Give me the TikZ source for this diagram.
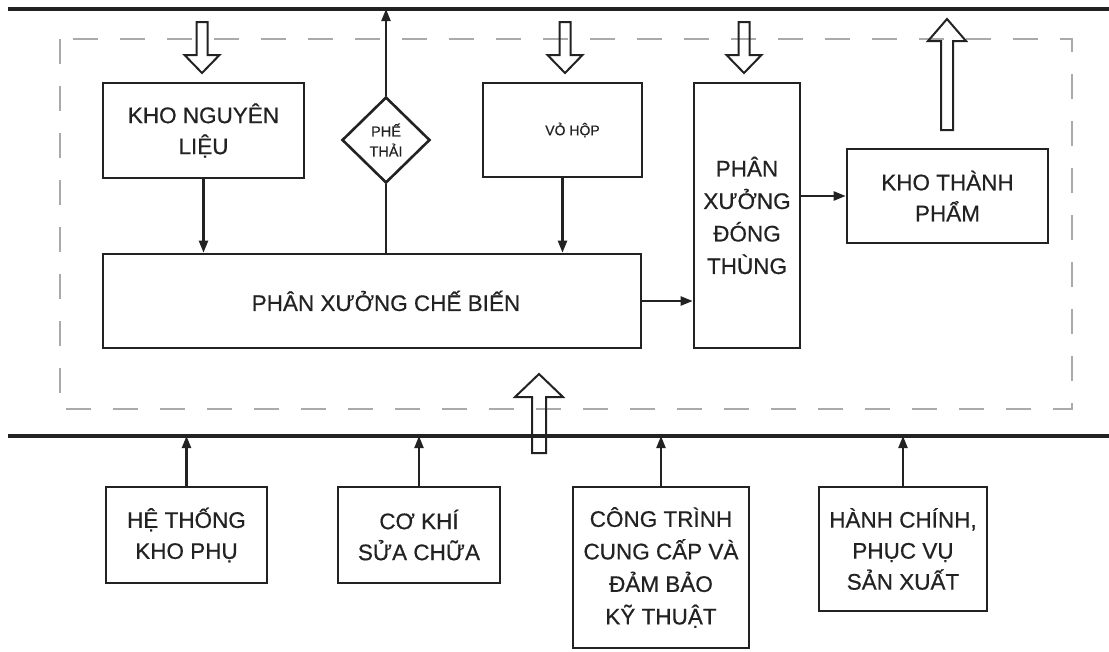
\documentclass[tikz,border=0pt]{standalone}
\usepackage{fontspec}
\setmainfont{Liberation Sans}[FakeBold=0.6]
\usetikzlibrary{arrows.meta,shapes.geometric}
\definecolor{linec}{HTML}{222222}
\definecolor{framec}{HTML}{AAAAAA}
\begin{document}
\begin{tikzpicture}[x=1pt,y=-1pt,
  box/.style={draw=linec, line width=2.6pt, align=center, inner sep=0pt, text=linec,
    font=\fontsize{22.5}{31}\selectfont},
  bus/.style={draw=linec, line width=3.2pt},
  flow/.style={draw=linec, line width=2.2pt, -{Triangle[length=12pt,width=9pt]}},
  plain/.style={draw=linec, line width=2.2pt},
  hollow/.style={draw=linec, line width=2pt, line join=miter},
  frame/.style={draw=framec, line width=1.6pt, dash pattern=on 25pt off 22pt}]
\useasboundingbox (0,0) rectangle (1109,651);

% buses
\coordinate (tl) at (8,9);
\coordinate (tr) at (1109,9);
\coordinate (bl) at (8,436);
\coordinate (br) at (1109,436);
\draw[bus] (tl) -- (tr);
\draw[bus] (bl) -- (br);

% dashed frame
\draw[frame] (60,39) rectangle (1072,409);

% boxes
\node[box, minimum width=201pt, minimum height=95pt] (knl) at (203.5,130.5) {KHO NGUYÊN\\LIỆU};
\node[box, minimum width=159pt, minimum height=94pt, font=\fontsize{14}{18}\selectfont] (vh) at (562.5,130) {\hspace*{20pt}VỎ HỘP};
\node[box, diamond, minimum width=88pt, minimum height=86pt, font=\fontsize{14.5}{20}\selectfont] (pt) at (386,140) {PHẾ\\THẢI};
\node[box, minimum width=538pt, minimum height=94pt] (cb) at (372,301) {\hspace*{28pt}PHÂN XƯỞNG CHẾ BIẾN};
\node[box, minimum width=106pt, minimum height=265pt, font=\fontsize{22.5}{32.5}\selectfont] (dt) at (747,215.5) {PHÂN\\XƯỞNG\\ĐÓNG\\THÙNG};
\node[box, minimum width=201pt, minimum height=94pt] (ktp) at (947.5,196) {KHO THÀNH\\PHẨM};

\node[box, minimum width=161pt, minimum height=96pt] (b1) at (186.5,535) {HỆ THỐNG\\KHO PHỤ};
\node[box, minimum width=162pt, minimum height=96pt] (b2) at (419,535) {CƠ KHÍ\\SỬA CHỮA};
\node[box, minimum width=176pt, minimum height=161pt, font=\fontsize{22.5}{32.5}\selectfont] (b3) at (661,567.5) {CÔNG TRÌNH\\CUNG CẤP VÀ\\ĐẢM BẢO\\KỸ THUẬT};
\node[box, minimum width=168pt, minimum height=124pt] (b4) at (903,549) {HÀNH CHÍNH,\\PHỤC VỤ\\SẢN XUẤT};

% connectors
\draw[flow] (knl.south) -- (knl.south |- cb.north);
\draw[flow] (vh.south) -- (vh.south |- cb.north);
\draw[plain] (pt.south |- cb.north) -- (pt.south);
\draw[flow] (pt.north) -- (pt.north |- tl);
\draw[flow] (cb.east) -- (cb.east -| dt.west);
\draw[flow] (dt.east |- ktp.west) -- (ktp.west);
\foreach \b in {b1,b2,b3,b4}
  \draw[flow] (\b.north) -- (\b.north |- bl);

% hollow arrows
\draw[hollow] (196.5,22) -- (207.5,22) -- (207.5,55) -- (219.5,55) -- (202,73) -- (184.5,55) -- (196.5,55) -- cycle;
\draw[hollow] (559.5,22) -- (570.5,22) -- (570.5,55) -- (582.5,55) -- (565,73) -- (547.5,55) -- (559.5,55) -- cycle;
\draw[hollow] (738.5,22) -- (749.5,22) -- (749.5,55) -- (761.5,55) -- (744,73) -- (726.5,55) -- (738.5,55) -- cycle;
\draw[hollow] (941,130) -- (953,130) -- (953,41) -- (966,41) -- (947,19) -- (928,41) -- (941,41) -- cycle;
\draw[hollow] (532,453) -- (546,453) -- (546,397) -- (563,397) -- (539,374) -- (515,397) -- (532,397) -- cycle;
\end{tikzpicture}
\end{document}
